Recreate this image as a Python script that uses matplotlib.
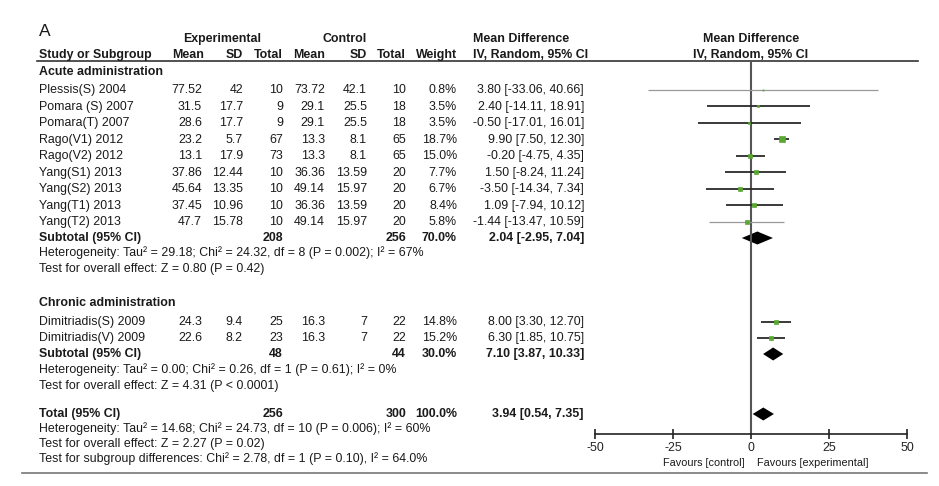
import matplotlib
matplotlib.use("Agg")
from matplotlib import pyplot as plt

plt.rcParams['font.family'] = ['Liberation Sans', 'DejaVu Sans']
plt.rcParams['axes.unicode_minus'] = False

# acute administration
acute_names = ["Plessis(S) 2004", "Pomara (S) 2007", "Pomara(T) 2007", "Rago(V1) 2012", "Rago(V2) 2012",
               "Yang(S1) 2013", "Yang(S2) 2013", "Yang(T1) 2013", "Yang(T2) 2013"]
acute_exp_mean = [77.52, 31.5, 28.6, 23.2, 13.1, 37.86, 45.64, 37.45, 47.7]
acute_exp_sd = [42, 17.7, 17.7, 5.7, 17.9, 12.44, 13.35, 10.96, 15.78]
acute_exp_n = [10, 9, 9, 67, 73, 10, 10, 10, 10]
acute_ctl_mean = [73.72, 29.1, 29.1, 13.3, 13.3, 36.36, 49.14, 36.36, 49.14]
acute_ctl_sd = [42.1, 25.5, 25.5, 8.1, 8.1, 13.59, 15.97, 13.59, 15.97]
acute_ctl_n = [10, 18, 18, 65, 65, 20, 20, 20, 20]
acute_weight = [0.8, 3.5, 3.5, 18.7, 15.0, 7.7, 6.7, 8.4, 5.8]
acute_md = [3.80, 2.40, -0.50, 9.90, -0.20, 1.50, -3.50, 1.09, -1.44]
acute_lo = [-33.06, -14.11, -17.01, 7.50, -4.75, -8.24, -14.34, -7.94, -13.47]
acute_hi = [40.66, 18.91, 16.01, 12.30, 4.35, 11.24, 7.34, 10.12, 10.59]

# chronic administration
chronic_names = ["Dimitriadis(S) 2009", "Dimitriadis(V) 2009"]
chronic_exp_mean = [24.3, 22.6]
chronic_exp_sd = [9.4, 8.2]
chronic_exp_n = [25, 23]
chronic_ctl_mean = [16.3, 16.3]
chronic_ctl_sd = [7, 7]
chronic_ctl_n = [22, 22]
chronic_weight = [14.8, 15.2]
chronic_md = [8.00, 6.30]
chronic_lo = [3.30, 1.85]
chronic_hi = [12.70, 10.75]

# subtotals: acute, chronic, total
sub_labels = ["Subtotal (95% CI)", "Subtotal (95% CI)", "Total (95% CI)"]
sub_exp_n = [208, 48, 256]
sub_ctl_n = [256, 44, 300]
sub_weight = [70.0, 30.0, 100.0]
sub_md = [2.04, 7.10, 3.94]
sub_lo = [-2.95, 3.87, 0.54]
sub_hi = [7.04, 10.33, 7.35]

acute_notes = ["Heterogeneity: Tau\u00b2 = 29.18; Chi\u00b2 = 24.32, df = 8 (P = 0.002); I\u00b2 = 67%",
               "Test for overall effect: Z = 0.80 (P = 0.42)"]
chronic_notes = ["Heterogeneity: Tau\u00b2 = 0.00; Chi\u00b2 = 0.26, df = 1 (P = 0.61); I\u00b2 = 0%",
                 "Test for overall effect: Z = 4.31 (P < 0.0001)"]
total_notes = ["Heterogeneity: Tau\u00b2 = 14.68; Chi\u00b2 = 24.73, df = 10 (P = 0.006); I\u00b2 = 60%",
               "Test for overall effect: Z = 2.27 (P = 0.02)",
               "Test for subgroup differences: Chi\u00b2 = 2.78, df = 1 (P = 0.10), I\u00b2 = 64.0%"]

xticks = [-50, -25, 0, 25, 50]

W, H = 939, 486
fs = 8.9
tc = "#1a1a1a"
green = "#5aa832"

fig = plt.figure(figsize=(W / 100, H / 100), dpi=100)
bg = fig.add_axes([0, 0, 1, 1])
bg.set_xlim(0, W)
bg.set_ylim(H, 0)
bg.axis("off")

# forest panel, shares pixel rows with the table
top, bottom, left, right = 61, 434, 595, 907
fa = fig.add_axes([left / W, 1 - bottom / H, (right - left) / W, (bottom - top) / H])
fa.set_xlim(-50, 50)
fa.set_ylim(bottom, top)
fa.patch.set_alpha(0)
for s in ["top", "right", "left"]:
    fa.spines[s].set_visible(False)
fa.spines["bottom"].set_linewidth(1.2)
fa.spines["bottom"].set_color("#222222")
fa.set_yticks([])
fa.set_xticks(xticks)
fa.tick_params(axis="x", direction="inout", length=7, width=1.2, pad=2, labelsize=fs, colors="#222222")
fa.axvline(0, color="#555555", lw=1.5)

cols = [202, 243, 283, 325, 367, 406, 457]  # right edges of numeric columns
ci_x = 584


def txt(x, y, s, ha="left", bold=False, size=fs):
    bg.text(x, y, s, ha=ha, va="center", fontsize=size, color=tc,
            fontweight="bold" if bold else "normal")


# headers
txt(39, 32, "A", size=12.5)
txt(222, 39, "Experimental", ha="center", bold=True)
txt(345, 39, "Control", ha="center", bold=True)
txt(473, 39, "Mean Difference", bold=True)
txt(751, 39, "Mean Difference", ha="center", bold=True)
txt(39, 55, "Study or Subgroup", bold=True)
txt(172, 55, "Mean", bold=True)
txt(cols[1], 55, "SD", ha="right", bold=True)
txt(cols[2], 55, "Total", ha="right", bold=True)
txt(293, 55, "Mean", bold=True)
txt(cols[4], 55, "SD", ha="right", bold=True)
txt(cols[5], 55, "Total", ha="right", bold=True)
txt(cols[6], 55, "Weight", ha="right", bold=True)
txt(473, 55, "IV, Random, 95% CI", bold=True)
txt(751, 55, "IV, Random, 95% CI", ha="center", bold=True)
bg.plot([37, 918], [61, 61], color="#333333", lw=1.2)
bg.plot([22, 927], [473, 473], color="#777777", lw=1.2)


def study_rows(y0, names, em, esd, en, cm, csd, cn, w, md, lo, hi, step):
    for i, name in enumerate(names):
        y = y0 + i * step
        txt(39, y, name)
        vals = [em[i], esd[i], en[i], cm[i], csd[i], cn[i]]
        for x, v in zip(cols, vals):
            txt(x, y, str(v), ha="right")
        txt(cols[6], y, f"{w[i]:.1f}%", ha="right")
        txt(ci_x, y, f"{md[i]:.2f} [{lo[i]:.2f}, {hi[i]:.2f}]", ha="right")
        thin = w[i] < 1 or i == len(names) - 1 and w[i] < 6
        fa.plot([lo[i], hi[i]], [y, y], color="#999999" if thin else "#2a2a2a",
                lw=0.9 if thin else 1.3, solid_capstyle="butt")
        side = 1.25 * w[i] ** 0.5
        fa.plot(md[i], y, marker="s", ms=side * 0.72, color=green, mec=green, mew=0.5)


def subtotal(y, k):
    txt(39, y, sub_labels[k], bold=True)
    txt(cols[2], y, str(sub_exp_n[k]), ha="right", bold=True)
    txt(cols[5], y, str(sub_ctl_n[k]), ha="right", bold=True)
    txt(cols[6], y, f"{sub_weight[k]:.1f}%", ha="right", bold=True)
    txt(ci_x, y, f"{sub_md[k]:.2f} [{sub_lo[k]:.2f}, {sub_hi[k]:.2f}]", ha="right", bold=True)
    h = 6.5
    fa.fill([sub_lo[k], sub_md[k], sub_hi[k], sub_md[k]], [y, y - h, y, y + h], color="black", lw=0)


step = 16.5
txt(39, 72, "Acute administration", bold=True)
study_rows(90, acute_names, acute_exp_mean, acute_exp_sd, acute_exp_n, acute_ctl_mean, acute_ctl_sd,
           acute_ctl_n, acute_weight, acute_md, acute_lo, acute_hi, step)
subtotal(238, 0)
for i, s in enumerate(acute_notes):
    txt(39, 253 + i * 16, s)

txt(39, 303, "Chronic administration", bold=True)
study_rows(322, chronic_names, chronic_exp_mean, chronic_exp_sd, chronic_exp_n, chronic_ctl_mean,
           chronic_ctl_sd, chronic_ctl_n, chronic_weight, chronic_md, chronic_lo, chronic_hi, 16)
subtotal(354, 1)
for i, s in enumerate(chronic_notes):
    txt(39, 370 + i * 16, s)

subtotal(414, 2)
for i, s in enumerate(total_notes):
    txt(39, 429 + i * 15, s)

txt(745, 463, "Favours [control]", ha="right", size=7.8)
txt(757, 463, "Favours [experimental]", size=7.8)

fig.savefig("out.png", dpi=100)
